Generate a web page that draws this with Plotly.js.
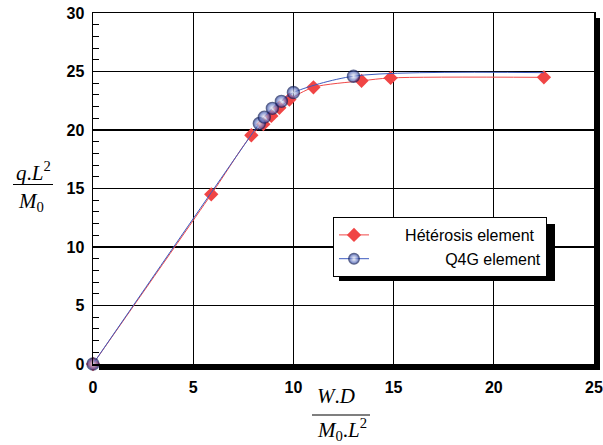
<!DOCTYPE html>
<html>
<head>
<meta charset="utf-8">
<script src="https://cdn.plot.ly/plotly-3.0.1.min.js"></script>
<style>html,body{margin:0;padding:0;background:#fff;}#chart{width:603px;height:445px;}</style>
</head>
<body>
<div id="chart"></div>
<script>
// Hétérosis element
const hetX = [0, 5.9, 7.9, 8.5, 8.9, 9.3, 9.8, 11.0, 13.4, 14.85, 22.5];
const hetY = [0, 14.5, 19.55, 20.5, 21.2, 21.9, 22.6, 23.65, 24.2, 24.45, 24.5];
// Q4G element (last point: curve end, no marker)
const q4gX = [0, 8.3, 8.55, 8.95, 9.4, 10.0, 13.0, 22.5];
const q4gY = [0, 20.55, 21.1, 21.85, 22.45, 23.2, 24.6, 24.9];
const q4gMarkerShown = [1, 1, 1, 1, 1, 1, 1, 0];

const seriesNames = ['Hétérosis element', 'Q4G element'];
const xTicks = [0, 5, 10, 15, 20, 25];
const yTicks = [0, 5, 10, 15, 20, 25, 30];

const NB = '\u00a0';
const pad = n => NB.repeat(n);

const traces = [
  {
    x: hetX, y: hetY, type: 'scatter', mode: 'lines+markers', cliponaxis: false,
    name: pad(7) + seriesNames[0],
    line: {color: '#f04848', width: 1, shape: 'spline', smoothing: 0.8},
    marker: {symbol: 'diamond', size: 11, color: '#f04545'}
  },
  {
    x: q4gX, y: q4gY, type: 'scatter', mode: 'lines+markers', cliponaxis: false,
    name: pad(16) + seriesNames[1],
    line: {color: '#3d5bbf', width: 1, shape: 'spline', smoothing: 0.8},
    marker: {
      symbol: 'circle', size: q4gMarkerShown.map(s => s ? 12 : 0), color: '#2540a8',
      gradient: {type: 'radial', color: '#ffffff'},
      line: {color: '#17245e', width: 1.4}
    }
  }
];

const ml = 93, mr = 9, mt = 13, mb = 81, W = 603, H = 445;
const pw = W - ml - mr, ph = H - mt - mb;
const px = v => (v - ml) / pw;          // pixel x -> paper x
const py = v => (H - mb - v) / ph;      // pixel y -> paper y

const tickFont = {family: 'Liberation Sans, Arial, sans-serif', size: 16, color: '#000', weight: 'bold'};
const mathFont = {family: 'Liberation Serif, Times New Roman, serif', size: 21, color: '#000'};

const layout = {
  width: W, height: H,
  margin: {l: ml, r: mr, t: mt, b: mb, pad: 0},
  paper_bgcolor: '#fff', plot_bgcolor: '#fff',
  showlegend: true,
  legend: {
    x: px(333), y: py(217), xanchor: 'left', yanchor: 'top',
    bgcolor: '#fff', bordercolor: '#000', borderwidth: 1,
    font: {family: 'Liberation Sans, Arial, sans-serif', size: 16, color: '#000'},
    itemwidth: 30, tracegroupgap: 0
  },
  xaxis: {
    range: [0, 25], tickvals: xTicks, ticktext: xTicks.map(String),
    showgrid: true, gridcolor: '#000', gridwidth: 1.2,
    showline: true, linecolor: '#000', linewidth: 1.5, mirror: true,
    zeroline: false, ticks: '', tickfont: tickFont, ticklabelstandoff: 8
  },
  yaxis: {
    range: [0, 30], tickvals: yTicks, ticktext: yTicks.map(String),
    showgrid: true, gridcolor: '#000', gridwidth: 1.2,
    showline: true, linecolor: '#000', linewidth: 1.5, mirror: true,
    zeroline: false, ticks: 'inside', ticklen: 6, tickcolor: '#000', tickwidth: 1,
    tickfont: tickFont, ticklabelstandoff: 4,
    minor: {dtick: 1, ticks: 'inside', ticklen: 6, tickcolor: '#000', tickwidth: 1, showgrid: false}
  },
  shapes: [
    // frame shadow (right and bottom strips)
    {type: 'rect', xref: 'paper', yref: 'paper', x0: 1, x1: px(600), y0: py(370), y1: py(18),
     fillcolor: '#000', line: {width: 0}},
    {type: 'rect', xref: 'paper', yref: 'paper', x0: px(99), x1: px(600), y0: py(370), y1: 0,
     fillcolor: '#000', line: {width: 0}},
    // legend shadow
    {type: 'rect', xref: 'paper', yref: 'paper', x0: px(339), x1: px(555), y0: py(281), y1: py(224),
     fillcolor: '#000', line: {width: 0}},
    // fraction bars
    {type: 'line', xref: 'paper', yref: 'paper', x0: px(13), x1: px(53), y0: py(184.5), y1: py(184.5),
     line: {color: '#000', width: 1.2}},
    {type: 'line', xref: 'paper', yref: 'paper', x0: px(312), x1: px(370), y0: py(415), y1: py(415),
     line: {color: '#000', width: 1.2}}
  ],
  annotations: [
    {xref: 'paper', yref: 'paper', x: px(33), y: py(172), xanchor: 'center', yanchor: 'middle',
     showarrow: false, font: mathFont, text: '<i>q</i>.<i>L</i><sup>2</sup>'},
    {xref: 'paper', yref: 'paper', x: px(31), y: py(202), xanchor: 'center', yanchor: 'middle',
     showarrow: false, font: mathFont, text: '<i>M</i><sub>0</sub>'},
    {xref: 'paper', yref: 'paper', x: px(336), y: py(396), xanchor: 'center', yanchor: 'middle',
     showarrow: false, font: mathFont, text: '<i>W</i>.<i>D</i>'},
    {xref: 'paper', yref: 'paper', x: px(342), y: py(429), xanchor: 'center', yanchor: 'middle',
     showarrow: false, font: mathFont, text: '<i>M</i><sub>0</sub>.<i>L</i><sup>2</sup>'}
  ]
};

Plotly.newPlot('chart', traces, layout, {staticPlot: true, displayModeBar: false});
</script>
</body>
</html>
